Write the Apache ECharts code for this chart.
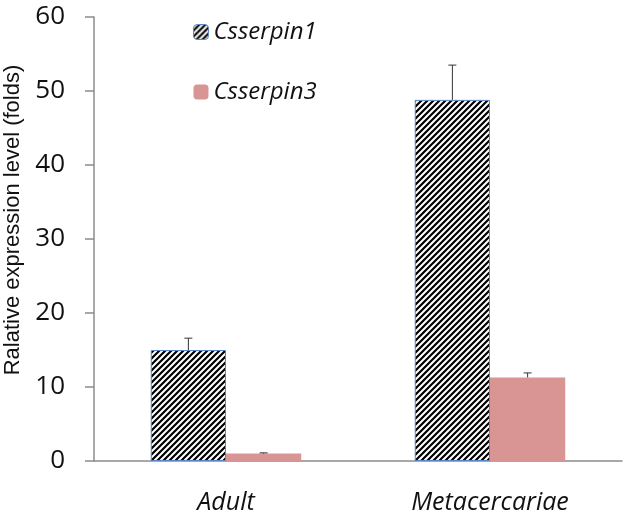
<!DOCTYPE html>
<html><head><meta charset="utf-8">
<script src="https://cdn.jsdelivr.net/npm/echarts@6/dist/echarts.min.js"></script>
<style>html,body{margin:0;padding:0;background:#fff}#c{width:630px;height:524px}</style>
</head><body><div id="c"></div>
<script>
const categories = ['Adult', 'Metacercariae'];
const seriesNames = ['Csserpin1', 'Csserpin3'];
const serpin1 = [15.0, 48.8];
const serpin1Err = [1.6, 4.7];
const serpin3 = [1.0, 11.3];
const serpin3Err = [0.1, 0.6];
const yTicks = [0, 10, 20, 30, 40, 50, 60];

// hatch pattern
const pc = document.createElement('canvas');
pc.width = 6; pc.height = 6;
const g = pc.getContext('2d');
g.fillStyle = '#fff'; g.fillRect(0, 0, 6, 6);
g.strokeStyle = '#000'; g.lineWidth = 2.2;
g.beginPath();
g.moveTo(-1, 7); g.lineTo(7, -1);
g.moveTo(-4, 4); g.lineTo(4, -4);
g.moveTo(2, 10); g.lineTo(10, 2);
g.stroke();
const hatch = { image: pc, repeat: 'repeat' };

const chart = echarts.init(document.getElementById('c'), null, { renderer: 'canvas' });

function errSeries(vals, errs, side) {
  return {
    type: 'custom',
    silent: true,
    z: 5,
    data: vals.map((v, i) => [i, v, v + errs[i]]),
    renderItem: function (params, api) {
      const band = api.size([1, 0])[0];
      const bw = band * 0.285;
      const base = api.coord([api.value(0), api.value(1)]);
      const top = api.coord([api.value(0), api.value(2)]);
      const x = base[0] + side * bw / 2;
      return {
        type: 'group',
        children: [
          { type: 'line', shape: { x1: x, y1: base[1], x2: x, y2: top[1] }, style: { stroke: '#333', lineWidth: 1 } },
          { type: 'line', shape: { x1: x - 4, y1: top[1], x2: x + 4, y2: top[1] }, style: { stroke: '#333', lineWidth: 1 } }
        ]
      };
    }
  };
}

chart.setOption({
  backgroundColor: '#fff',
  animation: false,
  grid: { left: 94, right: 8, top: 17, bottom: 63, containLabel: false, outerBoundsMode: 'none' },
  legend: {
    orient: 'vertical',
    left: 188, top: 15,
    itemGap: 36,
    itemWidth: 15, itemHeight: 15,
    textStyle: { fontFamily: 'Open Sans', fontStyle: 'italic', fontSize: 24, color: '#111' },
    data: [
      { name: seriesNames[0], itemStyle: { color: hatch, borderColor: '#5b84c4', borderWidth: 1 } },
      { name: seriesNames[1] }
    ]
  },
  xAxis: {
    type: 'category',
    data: categories,
    axisLine: { lineStyle: { color: '#8c8c8c', width: 1.5 } },
    axisTick: { show: false },
    axisLabel: { fontFamily: 'Open Sans', fontStyle: 'italic', fontSize: 25, color: '#111', margin: 29 }
  },
  yAxis: {
    type: 'value',
    min: 0, max: 60, interval: 10,
    name: 'Ralative expression level (folds)',
    nameLocation: 'middle',
    nameGap: 69,
    nameTextStyle: { fontFamily: 'Liberation Sans', fontSize: 22, color: '#111', padding: [0, 0, 0, 38] },
    axisLine: { show: true, lineStyle: { color: '#8c8c8c', width: 1.5 } },
    axisTick: { show: true, inside: false, length: 9, lineStyle: { color: '#8c8c8c', width: 1.5 } },
    splitLine: { show: false },
    axisLabel: { fontFamily: 'Open Sans', fontSize: 26, color: '#111', margin: 29,
      formatter: v => yTicks.includes(v) ? String(v) : '' }
  },
  series: [
    { name: seriesNames[0], type: 'bar', data: serpin1, barWidth: '28.5%', barGap: '0%',
      itemStyle: { color: hatch, borderColor: '#5b84c4', borderWidth: 1 } },
    { name: seriesNames[1], type: 'bar', data: serpin3, barWidth: '28.5%',
      itemStyle: { color: '#d99594' } },
    errSeries(serpin1, serpin1Err, -1),
    errSeries(serpin3, serpin3Err, 1)
  ]
});
</script></body></html>
